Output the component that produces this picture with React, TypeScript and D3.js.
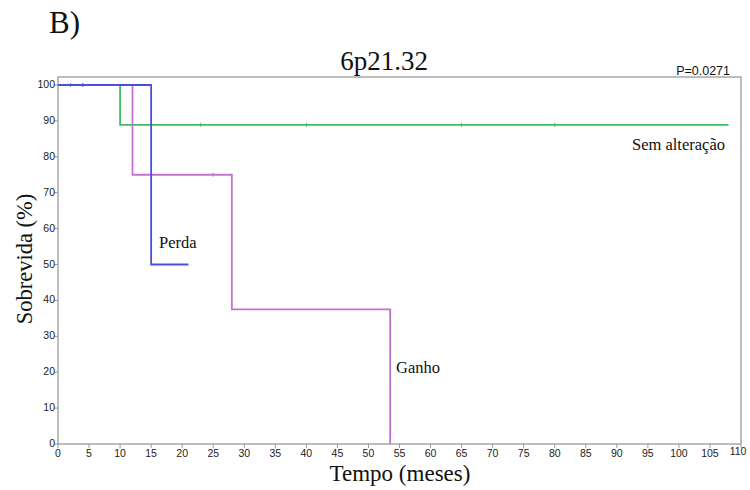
import React from "react";
import * as d3 from "d3";

// Kaplan–Meier step curves: event times and survival (%) after each step
const semTimes = [0, 10, 108];
const semSurv = [100, 88.9, 88.9];
const semCensor = [2, 23, 40, 65, 80];

const perdaTimes = [0, 15, 21];
const perdaSurv = [100, 50, 50];
const perdaCensor = [4];

const ganhoTimes = [0, 12, 28, 53.5];
const ganhoSurv = [100, 75, 37.5, 0];
const ganhoCensor = [25];

const xTicks = d3.range(0, 111, 5);
const yTicks = d3.range(0, 101, 10);

const W = 750;
const H = 490;
const plot = { left: 58, right: 741, top: 77, bottom: 444 };

export default function App() {
  const x = d3.scaleLinear().domain([0, 110]).range([plot.left, plot.right]);
  const y = d3.scaleLinear().domain([0, 100]).range([plot.bottom, 85]);

  const stepLine = d3
    .line<[number, number]>()
    .x((d) => x(d[0]))
    .y((d) => y(d[1]))
    .curve(d3.curveStepAfter);

  const series = [
    { times: semTimes, surv: semSurv, censor: semCensor, color: "#3fbf5f" },
    { times: ganhoTimes, surv: ganhoSurv, censor: ganhoCensor, color: "#c174cf" },
    { times: perdaTimes, surv: perdaSurv, censor: perdaCensor, color: "#4b4fdc" },
  ];

  const survAt = (times: number[], surv: number[], t: number) => {
    let v = surv[0];
    times.forEach((tt, i) => {
      if (tt <= t) v = surv[i];
    });
    return v;
  };

  const serif = "'Liberation Serif', 'Times New Roman', serif";
  const sans = "'Liberation Sans', Arial, sans-serif";

  return (
    <svg width={W} height={H} style={{ position: "absolute", left: 0, top: 0, background: "#fff" }}>
      <text x={49} y={33} fontFamily={serif} fontSize={31} fill="#111">B)</text>
      <text x={384} y={70} fontFamily={serif} fontSize={27} textAnchor="middle" fill="#111">6p21.32</text>
      <text x={730} y={75} fontFamily={sans} fontSize={12.5} textAnchor="end" fill="#111">P=0.0271</text>

      <rect
        x={plot.left}
        y={plot.top}
        width={plot.right - plot.left}
        height={plot.bottom - plot.top}
        fill="none"
        stroke="#9a9a9a"
        strokeWidth={1.3}
      />

      {yTicks.map((t) => (
        <g key={"y" + t}>
          <line x1={plot.left - 4} x2={plot.left} y1={y(t)} y2={y(t)} stroke="#9a9a9a" />
          <text x={plot.left - 3} y={y(t) + 3} fontFamily={sans} fontSize={10.5} textAnchor="end" fill="#222">
            {t}
          </text>
        </g>
      ))}
      {xTicks.map((t) => (
        <g key={"x" + t}>
          <line x1={x(t)} x2={x(t)} y1={plot.bottom} y2={plot.bottom + 4} stroke="#9a9a9a" />
          <text
            x={t === 110 ? x(t) - 3 : x(t)}
            y={t === 110 ? plot.bottom + 11 : plot.bottom + 13}
            fontFamily={sans}
            fontSize={10.5}
            textAnchor="middle"
            fill="#222"
          >
            {t}
          </text>
        </g>
      ))}

      {series.map((s, i) => (
        <g key={"s" + i}>
          <path
            d={stepLine(s.times.map((t, j) => [t, s.surv[j]] as [number, number])) || ""}
            fill="none"
            stroke={s.color}
            strokeWidth={1.8}
          />
          {s.censor.map((c) => (
            <line
              key={c}
              x1={x(c)}
              x2={x(c)}
              y1={y(survAt(s.times, s.surv, c)) - 2}
              y2={y(survAt(s.times, s.surv, c)) + 2}
              stroke={s.color}
              strokeWidth={1}
            />
          ))}
        </g>
      ))}

      <text x={632} y={150} fontFamily={serif} fontSize={16.5} fill="#111">Sem alteração</text>
      <text x={159} y={248} fontFamily={serif} fontSize={16.5} fill="#111">Perda</text>
      <text x={396} y={373} fontFamily={serif} fontSize={16.5} fill="#111">Ganho</text>

      <text
        transform={`translate(32, 259) rotate(-90)`}
        fontFamily={serif}
        fontSize={22.5}
        textAnchor="middle"
        fill="#111"
      >
        Sobrevida (%)
      </text>
      <text x={400} y={481} fontFamily={serif} fontSize={23} textAnchor="middle" fill="#111">
        Tempo (meses)
      </text>
    </svg>
  );
}
